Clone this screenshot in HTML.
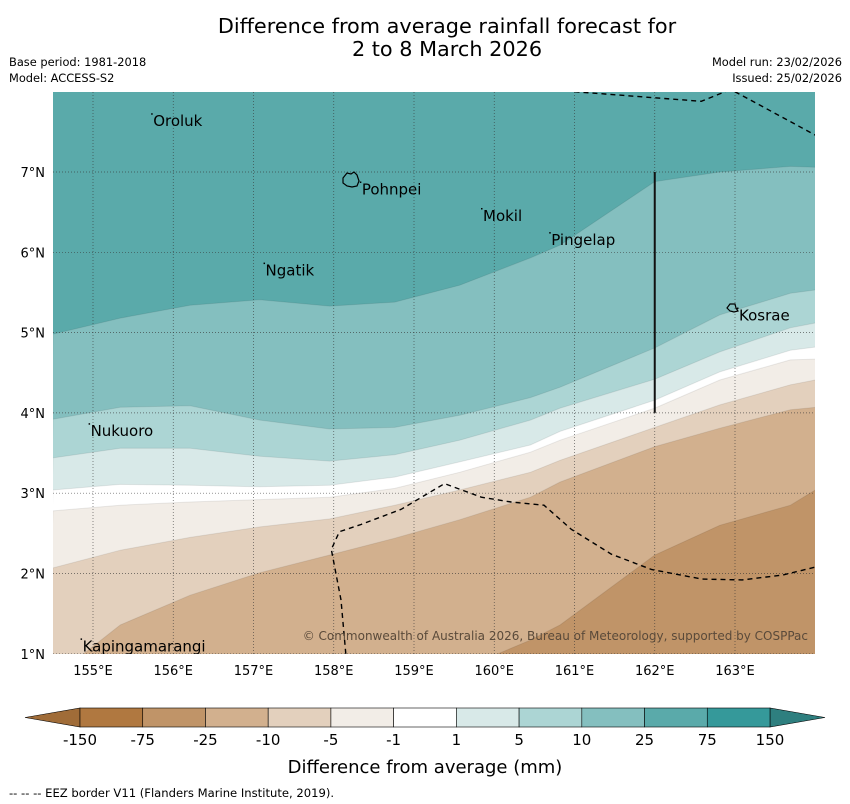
<!DOCTYPE html>
<html><head><meta charset="utf-8"><style>
body{margin:0;background:#fff;}
svg{display:block;font-family:"DejaVu Sans","Liberation Sans",sans-serif;}
</style></head><body>
<svg id="chart" width="850" height="804" viewBox="0 0 850 804" xmlns="http://www.w3.org/2000/svg">
<text x="447" y="33" font-size="20.8" text-anchor="middle">Difference from average rainfall forecast for</text>
<text x="447" y="56" font-size="20.8" text-anchor="middle">2 to 8 March 2026</text>
<text x="9" y="66" font-size="11.4">Base period: 1981-2018</text>
<text x="9" y="82" font-size="11.4">Model: ACCESS-S2</text>
<text x="842" y="66" font-size="11.4" text-anchor="end">Model run: 23/02/2026</text>
<text x="842" y="82" font-size="11.4" text-anchor="end">Issued: 25/02/2026</text>
<g id="map"></g>
<g id="axes"></g>
<g id="cbar"></g>
<text x="425" y="773" font-size="18" text-anchor="middle">Difference from average (mm)</text>
<text x="9" y="797" font-size="11.6">--  --  -- EEZ border V11 (Flanders Marine Institute, 2019).</text>
</svg>
<script>
const lons = [154.5,155.34,156.21,157.08,157.95,158.76,159.57,160.45,160.82,162.0,162.81,163.69,164.0];
const bandColors = ["#5aaaaa","#84bfbf","#acd5d4","#d8e9e8","#ffffff","#f2ede7","#e3d0bd","#d2b08e","#c09468"];
const b1 = [4.98,5.18,5.34,5.41,5.33,5.38,5.59,5.93,6.09,6.88,7.0,7.07,7.06];
const b2 = [3.92,4.07,4.09,3.91,3.80,3.82,3.97,4.19,4.32,4.81,5.22,5.49,5.53];
const b3 = [3.44,3.56,3.56,3.46,3.40,3.48,3.66,3.91,4.06,4.42,4.76,5.06,5.12];
const b4 = [3.04,3.11,3.10,3.08,3.10,3.20,3.39,3.60,3.77,4.16,4.51,4.78,4.82];
const b5 = [2.78,2.85,2.89,2.92,2.95,3.06,3.26,3.51,3.66,4.06,4.41,4.66,4.67];
const b6 = [2.07,2.29,2.45,2.58,2.68,2.85,3.04,3.26,3.41,3.82,4.10,4.35,4.41];
const b7 = [0.70,1.36,1.73,2.01,2.23,2.44,2.67,2.95,3.14,3.58,3.81,4.04,4.07];
const b8 = [-0.5,-0.3,0.0,0.15,0.3,0.5,0.8,1.17,1.36,2.23,2.60,2.85,3.04];
const latTicks = [1,2,3,4,5,6,7];
const lonTicks = [155,156,157,158,159,160,161,162,163];
const cbarLabels = ["-150","-75","-25","-10","-5","-1","1","5","10","25","75","150"];
const cbarColors = ["#b07840","#c09468","#d2b08e","#e3d0bd","#f2ede7","#ffffff","#d8e9e8","#acd5d4","#84bfbf","#5aaaaa","#35999a"];
const eezBottom = [[158.15,1.0],[158.09,1.67],[157.97,2.3],[158.07,2.52],[158.34,2.61],[158.84,2.80],[159.38,3.12],[159.84,2.95],[160.21,2.89],[160.62,2.85],[160.96,2.55],[161.46,2.24],[161.96,2.05],[162.59,1.93],[163.09,1.92],[163.59,1.98],[164.0,2.08]];
const eezTop1 = [[161.0,8.0],[162.58,7.88],[163.0,8.05]];
const eezTop2 = [[163.0,8.0],[164.0,7.46]];
const places = [["Oroluk",155.75,7.57],["Pohnpei",158.35,6.72],["Mokil",159.86,6.39],["Pingelap",160.71,6.09],["Ngatik",157.15,5.71],["Kosrae",163.05,5.15],["Nukuoro",154.97,3.71],["Kapingamarangi",154.87,1.03]];

const NS="http://www.w3.org/2000/svg";
const X0=53,X1=815,Y0=92,Y1=654;
const sx=lon=>93+(lon-155)*80.25;
const sy=lat=>172-(lat-7)*80.3;
function mk(tag,attrs,parent){const e=document.createElementNS(NS,tag);for(const k in attrs)e.setAttribute(k,attrs[k]);parent.appendChild(e);return e;}
const map=document.getElementById('map');
const defs=mk('defs',{},map);
const cp=mk('clipPath',{id:'clip'},defs);
mk('rect',{x:X0,y:Y0,width:X1-X0,height:Y1-Y0},cp);
const g=mk('g',{'clip-path':'url(#clip)'},map);
const bg=mk('rect',{x:X0,y:Y0,width:X1-X0,height:Y1-Y0,fill:bandColors[0]},g);


const bounds=[b1,b2,b3,b4,b5,b6,b7,b8];
const bandNames=['band-10-25','band-5-10','band-1-5','band-neutral','band-minus1-minus5','band-minus5-minus10','band-minus10-minus25','band-minus25-minus75'];
bounds.forEach((b,i)=>{
  let d='M'+(X0-5)+','+(Y1+20);
  lons.forEach((lo,j)=>{d+=' L'+sx(lo).toFixed(1)+','+sy(b[j]).toFixed(1);});
  d+=' L'+(X1+5)+','+sy(b[b.length-1]).toFixed(1)+' L'+(X1+5)+','+(Y1+20)+' Z';
  const p=mk('path',{d:d,fill:bandColors[i+1],stroke:'rgba(0,0,0,0.08)','stroke-width':1},g);
  
  
});
latTicks.forEach(l=>{const ln=mk('line',{x1:X0,x2:X1,y1:sy(l),y2:sy(l),stroke:'#333','stroke-width':0.7,'stroke-dasharray':'1,2',opacity:0.8},g);

});
lonTicks.forEach(l=>{const ln=mk('line',{x1:sx(l),x2:sx(l),y1:Y0,y2:Y1,stroke:'#333','stroke-width':0.7,'stroke-dasharray':'1,2',opacity:0.8},g);

});
function pl(pts){return pts.map((p,i)=>(i?'L':'M')+sx(p[0]).toFixed(1)+','+sy(p[1]).toFixed(1)).join(' ');}
[eezBottom,eezTop1,eezTop2].forEach(pts=>{const e=mk('path',{d:pl(pts),fill:'none',stroke:'#000','stroke-width':1.4,'stroke-dasharray':'5,4'},g);

});
const vl=mk('line',{x1:sx(162),x2:sx(162),y1:sy(7),y2:sy(4),stroke:'#111','stroke-width':2},g);


const pi=mk('path',{d:'M343,178 l4,-5 4,1 3,-2 3,3 2,6 -2,5 -5,1 -5,-1 -4,-3 z',fill:'none',stroke:'#000','stroke-width':1.2},g);


const ki=mk('path',{d:'M727,308 l3,-4 5,0 1,4 2,3 -4,1 -4,-1 z',fill:'none',stroke:'#000','stroke-width':1.2},g);


places.forEach(p=>{
  const x=sx(p[1]),y=sy(p[2]);
  const dt=mk('rect',{x:x-2,y:y-13,width:1.5,height:1.5,fill:'#000'},g);
  
  
  const t=mk('text',{x:x,y:y,'font-size':15,fill:'#000'},g);
  t.textContent=p[0];
  
  
});
const cr=mk('text',{x:808,y:640,'font-size':12,fill:'#5a4a3a','text-anchor':'end'},g);
cr.textContent='© Commonwealth of Australia 2026, Bureau of Meteorology, supported by COSPPac';


const ax=document.getElementById('axes');
latTicks.forEach(l=>{const t=mk('text',{x:45,y:sy(l)+5,'font-size':13,'text-anchor':'end'},ax);t.textContent=l+'°N';

});
lonTicks.forEach(l=>{const t=mk('text',{x:sx(l),y:675,'font-size':13,'text-anchor':'middle'},ax);t.textContent=l+'°E';

});
const cb=document.getElementById('cbar');
const cx0=80,cx1=770,cy=708,ch=19,n=cbarColors.length;
const w=(cx1-cx0)/n;
const lt=mk('polygon',{points:`${cx0},${cy} ${cx0},${cy+ch} 25,${cy+ch/2}`,fill:'#a06c38',stroke:'#000','stroke-width':0.6},cb);


const rt=mk('polygon',{points:`${cx1},${cy} ${cx1},${cy+ch} 825,${cy+ch/2}`,fill:'#2e7f7f',stroke:'#000','stroke-width':0.6},cb);


cbarColors.forEach((c,i)=>{const r=mk('rect',{x:cx0+i*w,y:cy,width:w,height:ch,fill:c,stroke:'#000','stroke-width':0.6},cb);

});
cbarLabels.forEach((l,i)=>{const t=mk('text',{x:cx0+i*w,y:745,'font-size':15,'text-anchor':'middle'},cb);t.textContent=l;

});
</script>
</body></html>
